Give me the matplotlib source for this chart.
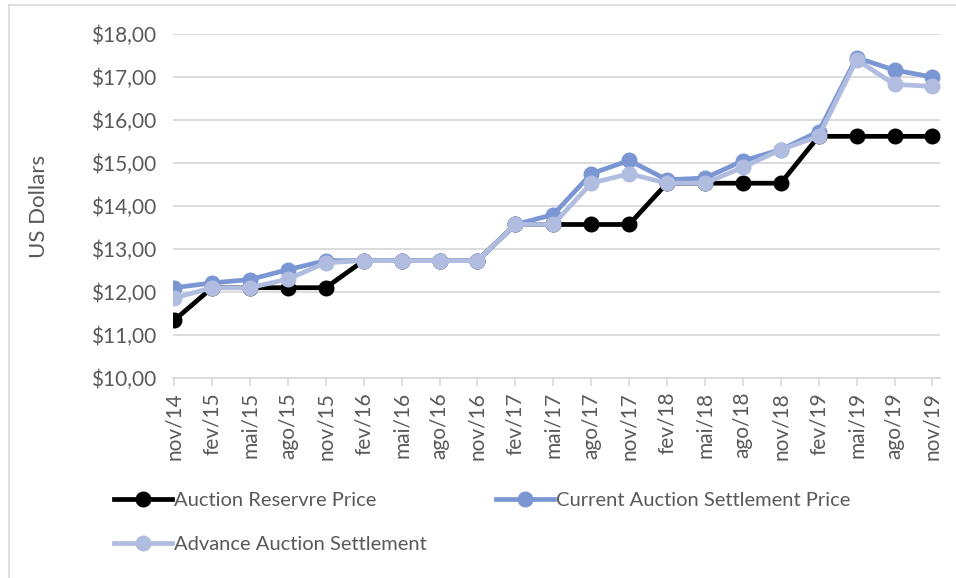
import matplotlib
matplotlib.use("Agg")
import matplotlib.pyplot as plt
from matplotlib.lines import Line2D

# ---------------------------------------------------------------------------
# data
# ---------------------------------------------------------------------------
dates = ["nov/14", "fev/15", "mai/15", "ago/15", "nov/15", "fev/16", "mai/16",
         "ago/16", "nov/16", "fev/17", "mai/17", "ago/17", "nov/17", "fev/18",
         "mai/18", "ago/18", "nov/18", "fev/19", "mai/19", "ago/19", "nov/19"]

reserve_price = [11.34, 12.10, 12.10, 12.10, 12.10, 12.73, 12.73, 12.73, 12.73,
                 13.57, 13.57, 13.57, 13.57, 14.53, 14.53, 14.53, 14.53,
                 15.62, 15.62, 15.62, 15.62]

current_settlement = [12.10, 12.21, 12.29, 12.52, 12.73, 12.73, 12.73, 12.73, 12.73,
                      13.57, 13.80, 14.75, 15.06, 14.61, 14.65, 15.05, 15.31,
                      15.73, 17.45, 17.16, 17.00]

advance_settlement = [11.86, 12.10, 12.10, 12.30, 12.68, 12.73, 12.73, 12.73, 12.73,
                      13.57, 13.57, 14.53, 14.75, 14.53, 14.53, 14.90, 15.31,
                      15.62, 17.40, 16.83, 16.78]

y_ticks = [10, 11, 12, 13, 14, 15, 16, 17, 18]

# ---------------------------------------------------------------------------
# style
# ---------------------------------------------------------------------------
plt.rcParams["font.family"] = ["Lato", "DejaVu Sans"]
TEXT = "#595959"
GRID = "#d9d9d9"
C_RES = "#000000"
C_CUR = "#7b97d3"
C_ADV = "#b1bde0"

fig = plt.figure(figsize=(9.56, 5.78), dpi=100)
W, H = 956, 578
ax = fig.add_axes([173 / W, 1 - 378 / H, (940 - 173) / W, (378 - 34) / H])

x = list(range(len(dates)))
kw = dict(linewidth=3.4, marker="o", markersize=10.5, solid_joinstyle="round")
l_res, = ax.plot(x, reserve_price, color=C_RES, label="Auction Reservre Price",
                 zorder=3, **kw)
l_cur, = ax.plot(x, current_settlement, color=C_CUR,
                 label="Current Auction Settlement Price", zorder=4, **kw)
l_adv, = ax.plot(x, advance_settlement, color=C_ADV,
                 label="Advance Auction Settlement", zorder=5, **kw)

ax.set_xlim(-0.03, 20.2)
ax.set_ylim(10, 18)
ax.set_yticks(y_ticks)
ax.set_yticklabels([f"${v},00" for v in y_ticks], fontsize=15, color=TEXT)
ax.set_xticks(x)
ax.set_xticklabels(dates, rotation=90, fontsize=15, color=TEXT)
ax.tick_params(axis="y", length=0, pad=12)
ax.tick_params(axis="x", length=6, color=GRID, width=1.2, pad=4)
ax.grid(axis="y", color=GRID, linewidth=1.3)
ax.set_axisbelow(True)
for s in ["top", "right", "left"]:
    ax.spines[s].set_visible(False)
ax.spines["bottom"].set_color(GRID)
ax.spines["bottom"].set_linewidth(1.3)

ax.set_ylabel("US Dollars", fontsize=16, color=TEXT, labelpad=30)

# legend: row-wise order (matplotlib fills columns first)
fig.legend([l_res, l_adv, l_cur],
           [l_res.get_label(), l_adv.get_label(), l_cur.get_label()],
           ncol=2, frameon=False, fontsize=14.5, labelcolor=TEXT,
           loc="upper left", bbox_to_anchor=(106 / W, 1 - 484 / H),
           handlelength=2.9, handletextpad=0.1, columnspacing=3.4,
           labelspacing=1.35, borderaxespad=0)

# outer frame (top and left edges)
fig.add_artist(Line2D([9 / W, 1], [1 - 5 / H, 1 - 5 / H], color="#d9d9d9", lw=1.2,
                      transform=fig.transFigure))
fig.add_artist(Line2D([9 / W, 9 / W], [0, 1 - 5 / H], color="#d9d9d9", lw=1.2,
                      transform=fig.transFigure))

fig.savefig("out.png", dpi=100)
